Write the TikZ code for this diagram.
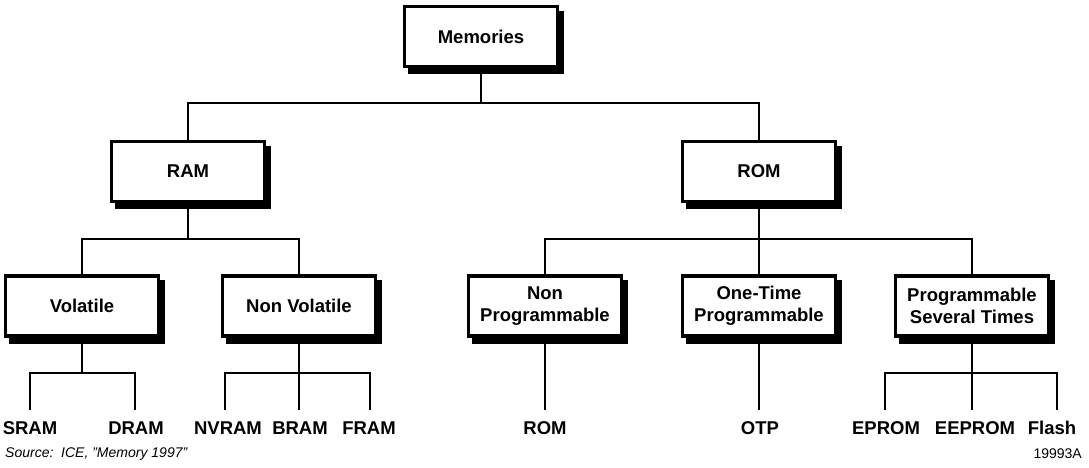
\documentclass[tikz,border=0pt]{standalone}
\usepackage{fontspec}
\setmainfont{Liberation Sans}
\begin{document}
\begin{tikzpicture}[x=1pt,y=-1pt,
  box/.style={draw=black, line width=3.3pt, fill=white, minimum width=153pt, minimum height=60pt,
    align=center, inner sep=0pt, font=\fontsize{18.5}{22}\selectfont\bfseries,
    preaction={fill=black, transform canvas={shift={(5pt,-6pt)}}, draw=black, line width=3.3pt}},
  leaf/.style={inner sep=0pt, font=\fontsize{18.5}{20}\selectfont\bfseries},
  wire/.style={line width=2pt}]
\useasboundingbox (0,0) rectangle (1089,467);
% boxes
\node[box] (mem) at (481,36.5) {Memories};
\node[box] (ram) at (188,171.5) {RAM};
\node[box] (rom) at (759,171.5) {ROM};
\node[box] (vol) at (82,306) {Volatile};
\node[box] (nvol) at (299,306) {Non Volatile};
\node[box] (nprog) at (545,306) {Non\\Programmable};
\node[box] (otp) at (759,306) {One-Time\\Programmable};
\node[box] (pst) at (972,306) {Programmable\\Several Times};
% leaves
\node[leaf] (sram) at (30,428) {SRAM};
\node[leaf] (dram) at (136,428) {DRAM};
\node[leaf] (nvram) at (228,428) {NVRAM};
\node[leaf] (bram) at (300,428) {BRAM};
\node[leaf] (fram) at (369,428) {FRAM};
\node[leaf] (lrom) at (545,428) {ROM};
\node[leaf] (lotp) at (760,428) {OTP};
\node[leaf] (eprom) at (886,428) {EPROM};
\node[leaf] (eeprom) at (975,428) {EEPROM};
\node[leaf] (flash) at (1052,428) {Flash};
% leaf line ends
\coordinate (csram) at (30,410);
\coordinate (cdram) at (135,410);
\coordinate (cnvram) at (225,410);
\coordinate (cbram) at (299,410);
\coordinate (cfram) at (370,410);
\coordinate (clrom) at (545,410);
\coordinate (clotp) at (759,410);
\coordinate (ceprom) at (885,410);
\coordinate (ceeprom) at (972,410);
\coordinate (cflash) at (1057,410);
% level 1
\draw[wire] (mem.south) -- (481,103) -| (ram.north);
\draw[wire] (481,103) -| (rom.north);
% level 2
\draw[wire] (ram.south) -- (188,239) -| (vol.north);
\draw[wire] (188,239) -| (nvol.north);
\draw[wire] (rom.south) -- (759,239) -| (nprog.north);
\draw[wire] (759,239) -| (pst.north);
\draw[wire] (759,239) -- (otp.north);
% level 3
\draw[wire] (vol.south) -- (82,373) -| (csram);
\draw[wire] (82,373) -| (cdram);
\draw[wire] (nvol.south) -- (cbram);
\draw[wire] (cnvram) |- (299,373) -| (cfram);
\draw[wire] (nprog.south) -- (clrom);
\draw[wire] (otp.south) -- (clotp);
\draw[wire] (pst.south) -- (ceeprom);
\draw[wire] (ceprom) |- (972,373) -| (cflash);
% footer
\node[anchor=west, inner sep=0pt, font=\fontsize{14}{16}\selectfont\itshape] (src) at (5,454) {Source:\ \ ICE, "Memory 1997"};
\node[anchor=east, inner sep=0pt, font=\fontsize{14}{16}\selectfont] (fig) at (1082,454) {19993A};
\end{tikzpicture}
\end{document}
